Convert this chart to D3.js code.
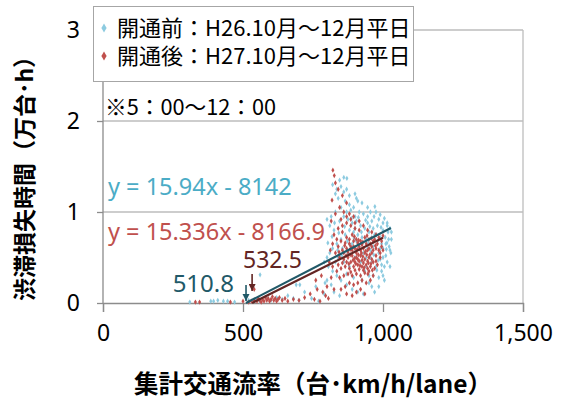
<!DOCTYPE html>
<html><head><meta charset="utf-8">
<script src="https://cdn.jsdelivr.net/npm/d3@7"></script>
<style>body{margin:0;background:#fff}svg{display:block}</style>
</head><body>
<svg id="c" width="563" height="403"></svg>
<script>
// ---- data ----
const xTicks = [0, 500, 1000, 1500];
const xTickLabels = ["0", "500", "1,000", "1,500"];
const yTicks = [0, 1, 2, 3];
const yTickLabels = ["0", "1", "2", "3"];
const legendLabels = ["開通前：H26.10月～12月平日", "開通後：H27.10月～12月平日"];
const yTitle = "渋滞損失時間（万台･h）";
const xTitle = "集計交通流率（台･km/h/lane）";
const noteText = "※5：00～12：00";
const eqBefore = "y = 15.94x - 8142";
const eqAfter = "y = 15.336x - 8166.9";
// trend lines: slope, intercept (台·h), x-range end
const trendBefore = {slope: 15.94, intercept: -8142, xEnd: 1028, label: "510.8", x0: 510.8};
const trendAfter = {slope: 15.336, intercept: -8166.9, xEnd: 1000, label: "532.5", x0: 532.5};

const pointsBefore = [
[310,0.01],[385,0.02],[395,0.02],[410,0.03],[430,0.02],[445,0.02],[470,0.01],[520,0.03],[545,0.04],[560,0.02],
[585,0.05],[600,0.03],[620,0.06],[640,0.04],[660,0.08],[680,0.05],[700,0.03],[690,0.2],[720,0.12],[745,0.05],
[760,0.18],[770,0.02],[790,0.1],[800,0.25],[561,0.31],[703,0.2],[793,0.22],
[820,1.30],[835,1.25],[850,1.28],[860,1.22],[871,1.37],[840,1.15],[880,1.18],[900,1.20],[910,1.12],[925,1.10],
[945,1.05],[971,1.06],[975,1.00],[990,0.97],[1005,0.93],[1015,0.88],[1025,0.82],[1030,0.78],[1020,0.70],[1010,0.65],
[1000,0.60],[1028,0.55],[1015,0.45],[1005,0.40],[995,0.35],[985,0.28],[978,0.36],[960,0.18],[950,0.30],[940,0.40],
[955,0.50],[965,0.62],[970,0.75],[980,0.85],[990,0.72],[1000,0.80],[985,0.55],[960,0.90],[945,0.95],[930,0.98],
[915,1.00],[895,1.05],[880,1.08],[865,1.12],[850,1.05],[830,1.00],[815,0.95],[800,0.92],[810,0.85],[825,0.80],
[845,0.90],[860,0.95],[875,0.92],[890,0.88],[905,0.90],[920,0.85],[935,0.82],[950,0.78],[940,0.70],[925,0.72],
[910,0.75],[895,0.78],[880,0.80],[865,0.75],[850,0.70],[835,0.65],[820,0.60],[810,0.55],[800,0.50],[790,0.45],
[805,0.40],[820,0.35],[835,0.30],[850,0.25],[870,0.20],[890,0.15],[910,0.12],[930,0.10],[880,0.40],[900,0.50],
[915,0.60],[930,0.55],[945,0.60],[960,0.45],[975,0.40],[990,0.48],[1010,0.52],[1022,0.62],[1030,0.70],[1018,0.78],
[1008,0.72],[995,0.65],[980,0.68],[960,0.72],[945,0.88],[900,0.95],[870,1.00],[855,0.60],[840,0.50],[860,0.45],
[875,0.55],[890,0.65],[905,0.68],[920,0.45],[935,0.35],[950,0.22],[965,0.30],[1000,0.30],[1014,0.66],[1025,0.40],
[830,0.45],[815,0.20],[825,0.12],[845,0.08],[870,0.32],[895,0.28],[925,0.25],[880,0.65],[1025,0.58],[1000,0.50],
[990,0.60],[975,0.75],[1015,0.85],[1000,0.88],[985,0.92],[965,0.82],[905,1.15],[870,1.25],[845,1.35],[830,1.20],
[860,1.38],[885,1.02],[900,0.82],[955,0.58],[940,0.50],[995,0.42],[1005,0.25],[985,0.18],[970,0.12],[955,1.00],
[827,0.88],[842,0.77],[863,0.84],[887,0.93],[912,0.94],[938,0.91],[953,0.84],[968,0.95],[993,0.83],[1012,0.59],
[983,0.47],[967,0.53],[948,0.66],[923,0.78],[897,0.71],[873,0.68],[852,0.52],[838,0.58],[818,0.73],[803,0.66]
];

const pointsAfter = [
[330,0.01],[345,0.01],[455,0.01],[500,0.02],[520,0.01],[530,0.02],[540,0.03],[550,0.02],[555,0.05],[560,0.03],
[565,0.01],[570,0.04],[575,0.02],[580,0.06],[585,0.03],[590,0.05],[595,0.02],[600,0.04],[605,0.07],[610,0.03],
[615,0.05],[620,0.02],[625,0.04],[630,0.06],[640,0.03],[650,0.05],[660,0.02],[680,0.04],[700,0.03],[540,0.15],
[720,0.06],[740,0.1],[755,0.04],[765,0.15],[775,0.02],[785,0.12],[795,0.08],[760,0.25],[780,0.3],[800,0.18],
[805,0.05],[815,0.28],[825,0.15],
[821,1.46],[826,1.40],[830,1.32],[818,1.13],[840,1.25],[855,1.18],[870,1.10],[845,1.05],[830,0.98],[815,0.90],
[860,1.00],[880,0.98],[895,0.95],[850,0.92],[870,0.88],[885,0.85],[900,0.82],[915,0.80],[840,0.82],[825,0.75],
[855,0.78],[870,0.72],[890,0.75],[905,0.70],[920,0.68],[935,0.72],[950,0.70],[965,0.68],[980,0.65],[995,0.62],
[1000,0.58],[990,0.55],[975,0.52],[960,0.55],[945,0.58],[930,0.60],[915,0.62],[900,0.60],[885,0.62],[870,0.60],
[855,0.58],[840,0.62],[830,0.55],[845,0.50],[860,0.48],[875,0.50],[890,0.52],[905,0.50],[920,0.52],[935,0.48],
[950,0.50],[965,0.45],[980,0.42],[970,0.38],[955,0.40],[940,0.42],[925,0.40],[910,0.42],[895,0.40],[880,0.38],
[865,0.40],[850,0.38],[835,0.35],[845,0.28],[860,0.30],[875,0.32],[890,0.30],[905,0.32],[920,0.30],[935,0.33],
[950,0.35],[965,0.30],[955,0.25],[940,0.22],[925,0.25],[910,0.22],[895,0.20],[880,0.22],[865,0.18],[850,0.15],
[870,0.10],[890,0.08],[905,0.12],[920,0.15],[935,0.10],[885,0.45],[900,0.45],[915,0.46],[930,0.44],[945,0.46],
[960,0.62],[975,0.60],[985,0.58],[940,0.65],[925,0.64],[910,0.66],[895,0.68],[880,0.70],[865,0.66],[850,0.68],
[835,0.70],[820,0.65],[812,0.58],[808,0.45],[820,0.40],[900,0.88],[915,0.90],[930,0.85],[945,0.80],[960,0.78],
[975,0.75],[885,0.92],[870,0.95],[855,0.85],[905,0.55],[920,0.58],[935,0.55],[950,0.60],[965,0.58],[890,0.58],
[875,0.56],[860,0.55],[945,0.38],[930,0.36],[915,0.37],[900,0.36],[885,0.34],[960,0.48],[975,0.46],[990,0.50],
[925,0.47],[910,0.48],[870,0.45],[855,0.44],[840,0.42],[895,0.62],[880,0.65],[955,0.65],[970,0.70],[985,0.72],
[995,0.68],[1000,0.74],[912,0.53],[928,0.51],[942,0.53],[898,0.49],[883,0.53],[957,0.43],[946,0.32],[962,0.36],
[918,0.41],[933,0.39],[903,0.43],[948,0.44],[893,0.47],[878,0.43],[938,0.57],[923,0.55],[908,0.59],[953,0.53],
[868,0.52],[883,0.59],[913,0.69],[898,0.73],[863,0.63],[843,0.56],[928,0.67],[943,0.74],[958,0.71],[973,0.63]
];

// ---- chart ----
const svg = d3.select("#c");
const L = 103, R = 523, T = 30, B = 303;
const x = d3.scaleLinear().domain([0, 1500]).range([L, R]);
const y = d3.scaleLinear().domain([0, 3]).range([B, T]);
const font = "'Noto Sans','Noto Sans CJK JP',sans-serif";
const jfont = "'Noto Sans CJK JP','Noto Sans',sans-serif";

// gridlines
svg.append("g").selectAll("line").data(yTicks.filter(d => d > 0)).join("line")
  .attr("x1", L).attr("x2", R).attr("y1", d => y(d)).attr("y2", d => y(d))
  .attr("stroke", "#BDBDBD").attr("stroke-width", 1.3);
// right border
svg.append("line").attr("x1", R).attr("x2", R).attr("y1", T).attr("y2", B)
  .attr("stroke", "#BDBDBD").attr("stroke-width", 1.3);

// axes
const xAxis = d3.axisBottom(x).tickValues(xTicks).tickSize(9).tickFormat((d, i) => xTickLabels[i]);
const gx = svg.append("g").attr("transform", `translate(0,${B})`).call(xAxis);
gx.select(".domain").attr("stroke", "#8C8C8C").attr("stroke-width", 1.3);
gx.selectAll(".tick line").attr("stroke", "#8C8C8C").attr("stroke-width", 1.3);
gx.selectAll(".tick text").attr("font-family", font).attr("font-size", 23).attr("fill", "#000").attr("dy", "1.15em");

const yAxis = d3.axisLeft(y).tickValues(yTicks).tickSize(6).tickFormat((d, i) => yTickLabels[i]);
const gy = svg.append("g").attr("transform", `translate(${L},0)`).call(yAxis);
gy.select(".domain").attr("stroke", "#8C8C8C").attr("stroke-width", 1.3).attr("d", `M-6,${T}H0V${B}`);
gy.selectAll(".tick line").attr("stroke", "#8C8C8C").attr("stroke-width", 1.3);
gy.selectAll(".tick text").attr("font-family", font).attr("font-size", 23).attr("fill", "#000").attr("x", -23);

// points
const diamond = d3.symbol().type(d3.symbolDiamond).size(8);
svg.append("g").selectAll("path").data(pointsBefore).join("path")
  .attr("d", diamond).attr("transform", d => `translate(${x(d[0])},${y(d[1])})`)
  .attr("fill", "#8DCBE0");
svg.append("g").selectAll("path").data(pointsAfter).join("path")
  .attr("d", diamond).attr("transform", d => `translate(${x(d[0])},${y(d[1])})`)
  .attr("fill", "#C0504D");

// trend lines
function trendLine(t, color) {
  const pts = [t.x0, t.xEnd].map(v => [v, Math.max(0, (t.slope * v + t.intercept) / 10000)]);
  svg.append("line").attr("x1", x(pts[0][0])).attr("y1", y(pts[0][1]))
    .attr("x2", x(pts[1][0])).attr("y2", y(pts[1][1]))
    .attr("stroke", color).attr("stroke-width", 2.2);
}
trendLine(trendAfter, "#632523");
trendLine(trendBefore, "#215968");

// arrows
const defs = svg.append("defs");
function marker(id, color) {
  defs.append("marker").attr("id", id).attr("viewBox", "0 0 10 10").attr("refX", 10).attr("refY", 5)
    .attr("markerWidth", 4.5).attr("markerHeight", 4.5).attr("orient", "auto")
    .append("path").attr("d", "M0,0L10,5L0,10z").attr("fill", color);
}
marker("ab", "#215968"); marker("ar", "#632523");
svg.append("line").attr("x1", x(trendBefore.x0)).attr("x2", x(trendBefore.x0)).attr("y1", 285).attr("y2", 301)
  .attr("stroke", "#215968").attr("stroke-width", 1.6).attr("marker-end", "url(#ab)");
svg.append("line").attr("x1", x(trendAfter.x0)).attr("x2", x(trendAfter.x0)).attr("y1", 274).attr("y2", 291)
  .attr("stroke", "#632523").attr("stroke-width", 1.6).attr("marker-end", "url(#ar)");
svg.append("text").text(trendBefore.label).attr("x", 234).attr("y", 292).attr("text-anchor", "end")
  .attr("font-family", font).attr("font-size", 24).attr("fill", "#215968");
svg.append("text").text(trendAfter.label).attr("x", 243).attr("y", 268)
  .attr("font-family", font).attr("font-size", 23).attr("fill", "#632523");

// equations & note
svg.append("text").text(eqBefore).attr("x", 108).attr("y", 195)
  .attr("font-family", font).attr("font-size", 23.5).attr("fill", "#4BACC6");
svg.append("text").text(eqAfter).attr("x", 108).attr("y", 240)
  .attr("font-family", font).attr("font-size", 23.5).attr("fill", "#C0504D");
svg.append("text").text(noteText).attr("x", 105).attr("y", 115)
  .attr("font-family", jfont).attr("font-size", 21.7).attr("fill", "#000");

// legend
const lg = svg.append("g");
lg.append("rect").attr("x", 93.5).attr("y", 6.5).attr("width", 320).attr("height", 75)
  .attr("fill", "#fff").attr("stroke", "#A6A6A6").attr("stroke-width", 1);
const legColors = ["#8DCBE0", "#C0504D"];
legendLabels.forEach((lab, i) => {
  const cy = 28 + i * 28;
  lg.append("path").attr("d", d3.symbol().type(d3.symbolDiamond).size(24)).attr("transform", `translate(104,${cy})`)
    .attr("fill", legColors[i]);
  lg.append("text").text(lab).attr("x", 117).attr("y", cy + 8).attr("font-family", jfont)
    .attr("font-size", 22).attr("fill", "#000");
});

// axis titles
svg.append("text").text(xTitle).attr("x", 313).attr("y", 393).attr("text-anchor", "middle")
  .attr("font-family", jfont).attr("font-weight", "bold").attr("font-size", 24.5).attr("fill", "#000");
svg.append("text").text(yTitle).attr("transform", "translate(33,173) rotate(-90)").attr("text-anchor", "middle")
  .attr("font-family", jfont).attr("font-weight", "bold").attr("font-size", 23).attr("fill", "#000");
</script>
</body></html>
